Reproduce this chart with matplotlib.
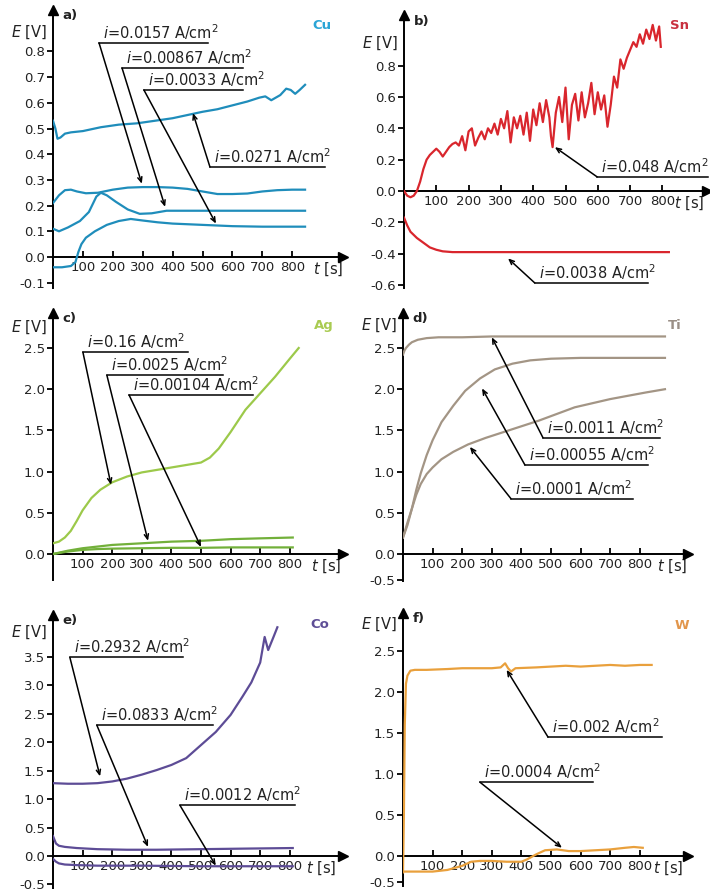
import matplotlib
matplotlib.use("Agg")
import matplotlib.pyplot as plt

plt.rcParams['font.family'] = ['DejaVu Sans']
plt.rcParams['mathtext.fontset'] = 'dejavusans'

# ---------------- data ----------------
x_ticks = [100, 200, 300, 400, 500, 600, 700, 800]
x_tick_labels = ['100', '200', '300', '400', '500', '600', '700', '800']

# a) Cu
cu_t_0271 = [0, 8, 15, 25, 40, 60, 100, 160, 220, 280, 340, 400, 460, 500, 550, 600, 650, 690, 710, 730, 760, 780, 795, 810, 825, 843]
cu_e_0271 = [0.53, 0.50, 0.46, 0.465, 0.48, 0.485, 0.49, 0.505, 0.515, 0.52, 0.53, 0.54, 0.555, 0.565, 0.575, 0.59, 0.605, 0.62, 0.625, 0.61, 0.63, 0.655, 0.65, 0.635, 0.65, 0.67]
cu_t_0157 = [0, 20, 40, 60, 80, 110, 150, 200, 250, 300, 350, 400, 450, 500, 550, 600, 650, 700, 750, 800, 843]
cu_e_0157 = [0.21, 0.24, 0.26, 0.262, 0.255, 0.248, 0.25, 0.262, 0.27, 0.272, 0.272, 0.27, 0.265, 0.255, 0.245, 0.245, 0.247, 0.255, 0.26, 0.262, 0.262]
cu_t_00867 = [0, 20, 50, 90, 120, 145, 160, 180, 210, 250, 290, 330, 380, 450, 550, 650, 750, 843]
cu_e_00867 = [0.11, 0.10, 0.115, 0.14, 0.175, 0.235, 0.25, 0.24, 0.215, 0.185, 0.168, 0.17, 0.18, 0.18, 0.18, 0.18, 0.18, 0.18]
cu_t_0033 = [0, 30, 60, 75, 85, 95, 110, 140, 180, 220, 260, 300, 350, 400, 500, 600, 700, 843]
cu_e_0033 = [-0.04, -0.04, -0.035, -0.02, 0.02, 0.05, 0.075, 0.10, 0.125, 0.14, 0.148, 0.142, 0.135, 0.13, 0.125, 0.12, 0.118, 0.118]
cu_yticks = [-0.1, 0.0, 0.1, 0.2, 0.3, 0.4, 0.5, 0.6, 0.7, 0.8]
cu_ylabels = ['-0.1', '0.0', '0.1', '0.2', '0.3', '0.4', '0.5', '0.6', '0.7', '0.8']

# b) Sn
sn_t_048 = [0, 10, 20, 30, 40, 50, 60, 70, 80, 90,
            100, 110, 120, 130, 140, 150, 160, 170, 180, 190,
            200, 210, 220, 230, 240, 250, 260, 270, 280, 290,
            300, 310, 320, 330, 340, 350, 360, 370, 380, 390,
            400, 410, 420, 430, 440, 450, 455, 460, 470, 480,
            490, 500, 510, 520, 530, 540, 550, 560, 570, 580,
            590, 600, 610, 620, 630, 640, 650, 660, 670, 680,
            690, 700, 710, 720, 730, 740, 750, 760, 770, 780,
            790, 795]
sn_e_048 = [0.00, -0.03, -0.04, -0.03, 0.00, 0.06, 0.14, 0.20, 0.23, 0.25,
            0.27, 0.25, 0.22, 0.25, 0.28, 0.30, 0.31, 0.29, 0.35, 0.26,
            0.38, 0.40, 0.29, 0.34, 0.38, 0.33, 0.40, 0.37, 0.43, 0.36,
            0.46, 0.40, 0.51, 0.31, 0.47, 0.40, 0.48, 0.36, 0.50, 0.32,
            0.52, 0.42, 0.56, 0.44, 0.58, 0.47, 0.35, 0.28, 0.50, 0.60,
            0.44, 0.66, 0.33, 0.55, 0.62, 0.45, 0.63, 0.47, 0.56, 0.69,
            0.49, 0.63, 0.52, 0.61, 0.41, 0.55, 0.73, 0.66, 0.84, 0.78,
            0.85, 0.90, 0.95, 0.92, 1.00, 0.94, 1.03, 0.97, 1.06, 0.96,
            1.05, 0.92]
sn_t_0038 = [0, 10, 20, 40, 60, 80, 100, 120, 150, 200, 300, 400, 500, 600, 700, 800, 820]
sn_e_0038 = [-0.17, -0.22, -0.26, -0.30, -0.33, -0.36, -0.375, -0.385, -0.39, -0.39, -0.39, -0.39, -0.39, -0.39, -0.39, -0.39, -0.39]
sn_yticks = [-0.6, -0.4, -0.2, 0.0, 0.2, 0.4, 0.6, 0.8]
sn_ylabels = ['-0.6', '-0.4', '-0.2', '0.0', '0.2', '0.4', '0.6', '0.8']

# c) Ag
ag_t_016 = [0, 20, 40, 60, 80, 100, 130, 160, 200, 250, 300, 350, 400, 450, 500, 530, 560, 600, 650, 700, 750, 800, 830]
ag_e_016 = [0.13, 0.15, 0.2, 0.28, 0.4, 0.53, 0.68, 0.78, 0.87, 0.94, 0.99, 1.02, 1.05, 1.08, 1.11, 1.17, 1.28, 1.48, 1.75, 1.95, 2.15, 2.37, 2.5]
ag_t_low = [0, 50, 100, 150, 200, 300, 400, 500, 600, 700, 810]
ag_e_00025 = [0.0, 0.04, 0.07, 0.09, 0.11, 0.13, 0.15, 0.16, 0.18, 0.19, 0.2]
ag_e_000104 = [0.0, 0.03, 0.05, 0.06, 0.065, 0.07, 0.075, 0.075, 0.08, 0.08, 0.08]
ag_yticks = [0.0, 0.5, 1.0, 1.5, 2.0, 2.5]
ag_ylabels = ['0.0', '0.5', '1.0', '1.5', '2.0', '2.5']

# d) Ti
ti_t_0011 = [0, 5, 10, 20, 30, 50, 80, 120, 200, 300, 400, 500, 600, 700, 800, 885]
ti_e_0011 = [2.42, 2.47, 2.5, 2.54, 2.57, 2.6, 2.62, 2.63, 2.63, 2.64, 2.64, 2.64, 2.64, 2.64, 2.64, 2.64]
ti_t_000055 = [0, 15, 30, 45, 60, 80, 100, 130, 170, 210, 260, 310, 370, 430, 500, 600, 700, 800, 885]
ti_e_000055 = [0.2, 0.38, 0.55, 0.78, 0.98, 1.2, 1.38, 1.6, 1.8, 1.98, 2.13, 2.24, 2.31, 2.35, 2.37, 2.38, 2.38, 2.38, 2.38]
ti_t_00001 = [0, 15, 30, 45, 60, 80, 100, 130, 170, 220, 280, 340, 400, 460, 520, 580, 640, 700, 760, 820, 885]
ti_e_00001 = [0.2, 0.35, 0.55, 0.72, 0.85, 0.97, 1.05, 1.15, 1.24, 1.33, 1.41, 1.48, 1.55, 1.62, 1.70, 1.78, 1.83, 1.88, 1.92, 1.96, 2.0]
ti_yticks = [0.0, 0.5, 1.0, 1.5, 2.0, 2.5]
ti_ylabels = ['-0.5', '0.0', '0.5', '1.0', '1.5', '2.0', '2.5']   # first label sits at the axis end

# e) Co
co_t_2932 = [0, 50, 100, 150, 200, 250, 300, 350, 400, 450, 500, 550, 600, 640, 670, 700, 715, 727, 745, 758]
co_e_2932 = [1.28, 1.27, 1.27, 1.28, 1.31, 1.36, 1.43, 1.51, 1.60, 1.72, 1.95, 2.18, 2.48, 2.80, 3.05, 3.40, 3.85, 3.62, 3.85, 4.02]
co_t_0833 = [0, 10, 20, 40, 80, 150, 250, 350, 500, 650, 810]
co_e_0833 = [0.35, 0.22, 0.18, 0.16, 0.14, 0.12, 0.11, 0.11, 0.12, 0.13, 0.14]
co_t_0012 = [0, 10, 20, 40, 80, 150, 300, 500, 700, 810]
co_e_0012 = [-0.05, -0.1, -0.13, -0.15, -0.16, -0.17, -0.17, -0.18, -0.18, -0.18]
co_yticks = [-0.5, 0.0, 0.5, 1.0, 1.5, 2.0, 2.5, 3.0, 3.5]
co_ylabels = ['-0.5', '0.0', '0.5', '1.0', '1.5', '2.0', '2.5', '3.0', '3.5']

# f) W
w_t_0002 = [0, 3, 6, 10, 15, 25, 40, 80, 150, 200, 250, 300, 330, 345, 355, 365, 380, 450, 500, 550, 600, 650, 700, 750, 800, 840]
w_e_0002 = [-0.2, 0.5, 1.6, 2.1, 2.2, 2.26, 2.27, 2.27, 2.28, 2.29, 2.29, 2.29, 2.3, 2.35, 2.29, 2.25, 2.29, 2.3, 2.31, 2.32, 2.31, 2.32, 2.33, 2.32, 2.33, 2.33]
w_t_00004 = [0, 50, 100, 150, 200, 230, 260, 300, 350, 400, 420, 450, 480, 520, 560, 600, 650, 700, 750, 780, 810]
w_e_00004 = [-0.19, -0.19, -0.19, -0.17, -0.12, -0.07, -0.06, -0.06, -0.07, -0.07, -0.04, 0.02, 0.07, 0.08, 0.06, 0.06, 0.07, 0.08, 0.1, 0.11, 0.1]
w_yticks = [0.0, 0.5, 1.0, 1.5, 2.0, 2.5]
w_ylabels = ['-0.5', '0.0', '0.5', '1.0', '1.5', '2.0', '2.5']

# colours
C_CU, C_CU_LBL = '#1f8dbb', '#2ba5d6'
C_SN, C_SN_LBL = '#d9262d', '#c8303f'
C_AG, C_AG_DARK, C_AG_LBL = '#9cc94a', '#72b03a', '#a9cb52'
C_TI, C_TI_LBL = '#a39585', '#9a8f86'
C_CO, C_CO_LBL = '#5d4c96', '#5e4e96'
C_W, C_W_LBL = '#e9a03c', '#e2964c'

# ---------------- figure ----------------
W_PX, H_PX = 710, 889
fig = plt.figure(figsize=(W_PX / 100, H_PX / 100), dpi=100)
fig.patch.set_facecolor('white')

TXT = '#222222'


def add_panel(x0, y0, sx, sy, xlim, ylim):
    left = x0 + xlim[0] * sx
    right = x0 + xlim[1] * sx
    top = y0 - ylim[1] * sy
    bottom = y0 - ylim[0] * sy
    ax = fig.add_axes([left / W_PX, 1 - bottom / H_PX, (right - left) / W_PX, (bottom - top) / H_PX])
    ax.set_xlim(xlim)
    ax.set_ylim(ylim)
    ax.patch.set_alpha(0)
    for s in ('top', 'right'):
        ax.spines[s].set_visible(False)
    ax.spines['left'].set_position(('data', 0))
    ax.spines['bottom'].set_position(('data', 0))
    for s in ('left', 'bottom'):
        ax.spines[s].set_linewidth(1.4)
        ax.spines[s].set_zorder(1)
    ax.plot(1, 0, marker='>', ms=7, color='k', transform=ax.get_yaxis_transform(), clip_on=False, zorder=5)
    ax.plot(0, 1, marker='^', ms=7, color='k', transform=ax.get_xaxis_transform(), clip_on=False, zorder=5)
    ax.set_xticks(x_ticks)
    ax.set_xticklabels(x_tick_labels)
    ax.tick_params(axis='x', direction='in', length=4, width=1.3, pad=3, labelsize=9.5, labelcolor=TXT)
    ax.tick_params(axis='y', direction='out', length=4, width=1.3, pad=2, labelsize=9.5, labelcolor=TXT)
    return ax


def decorate(ax, letter, elem, elem_color, elem_xy, ylabel_y, t_x):
    ax.annotate(r'$E$ [V]', xy=(0, ylabel_y), xytext=(-4, 0), textcoords='offset points',
                ha='right', va='center', fontsize=10.5, color=TXT)
    ax.annotate(letter, xy=(0, 1), xycoords=('data', 'axes fraction'), xytext=(7, -4),
                textcoords='offset points', ha='left', va='center', fontsize=9.5,
                fontweight='bold', color=TXT)
    ax.text(elem_xy[0], elem_xy[1], elem, transform=ax.transAxes, ha='left', va='center',
            fontsize=9.5, fontweight='bold', color=elem_color)
    ax.annotate(r'$t$ [s]', xy=(t_x, 0), xytext=(0, -8.5), textcoords='offset points',
                ha='left', va='center', fontsize=10.5, color=TXT)


def callout(ax, text, tx, ty, ux_end, px, py):
    ax.plot([tx, ux_end], [ty, ty], color='k', lw=1.1, clip_on=False, zorder=4)
    ax.annotate('', xy=(px, py), xytext=(tx, ty),
                arrowprops=dict(arrowstyle='->,head_length=0.35,head_width=0.15', lw=1.1,
                                color='k', shrinkA=0, shrinkB=0),
                annotation_clip=False, zorder=4)
    ax.annotate(text, xy=(tx, ty), xytext=(3, 0.8), textcoords='offset points',
                ha='left', va='bottom', fontsize=10.5, color=TXT, annotation_clip=False)


def itext(v):
    return r'$i$=' + v + r' A/cm$^2$'


LW = 1.6

# a) Cu
ax = add_panel(53, 257, 0.299, 257, (0, 970), (-0.12, 0.96))
ax.set_yticks(cu_yticks)
ax.set_yticklabels(cu_ylabels)
for t, e in ((cu_t_0271, cu_e_0271), (cu_t_0157, cu_e_0157), (cu_t_00867, cu_e_00867), (cu_t_0033, cu_e_0033)):
    ax.plot(t, e, color=C_CU, lw=LW, zorder=3)
decorate(ax, 'a)', 'Cu', C_CU_LBL, (0.893, 0.946), 0.875, 868)
callout(ax, itext('0.0157'), 154, 0.833, 518, 297, 0.285)
callout(ax, itext('0.00867'), 231, 0.735, 635, 375, 0.195)
callout(ax, itext('0.0033'), 304, 0.65, 635, 545, 0.13)
callout(ax, itext('0.0271'), 525, 0.35, 910, 468, 0.56)

# b) Sn
ax = add_panel(404, 191, 0.323, 156.7, (0, 938), (-0.62, 1.12))
ax.set_yticks(sn_yticks)
ax.set_yticklabels(sn_ylabels)
ax.plot(sn_t_048, sn_e_048, color=C_SN, lw=LW, zorder=3)
ax.plot(sn_t_0038, sn_e_0038, color=C_SN, lw=LW, zorder=3)
decorate(ax, 'b)', 'Sn', C_SN_LBL, (0.878, 0.963), 0.94, 836)
callout(ax, itext('0.048'), 598, 0.09, 941, 467, 0.28)
callout(ax, itext('0.0038'), 405, -0.587, 755, 322, -0.43)

# c) Ag
ax = add_panel(53, 554, 0.296, 82.4, (0, 981), (-0.32, 2.92))
ax.set_yticks(ag_yticks)
ax.set_yticklabels(ag_ylabels)
ax.plot(ag_t_016, ag_e_016, color=C_AG, lw=LW, zorder=3)
ax.plot(ag_t_low, ag_e_00025, color=C_AG_DARK, lw=LW, zorder=3)
ax.plot(ag_t_low, ag_e_000104, color=C_AG_DARK, lw=LW, zorder=3)
decorate(ax, 'c)', 'Ag', C_AG_LBL, (0.9, 0.955), 2.75, 873)
callout(ax, itext('0.16'), 101, 2.45, 456, 196, 0.84)
callout(ax, itext('0.0025'), 182, 2.17, 574, 321, 0.16)
callout(ax, itext('0.00104'), 257, 1.93, 676, 500, 0.085)

# d) Ti
ax = add_panel(403, 554, 0.296, 82.4, (0, 963), (-0.33, 2.92))
ax.set_yticks([ax.get_ylim()[0] + 0.01] + ti_yticks)
ax.set_yticklabels(ti_ylabels)
ax.plot(ti_t_0011, ti_e_0011, color=C_TI, lw=LW, zorder=3)
ax.plot(ti_t_000055, ti_e_000055, color=C_TI, lw=LW, zorder=3)
ax.plot(ti_t_00001, ti_e_00001, color=C_TI, lw=LW, zorder=3)
decorate(ax, 'd)', 'Ti', C_TI_LBL, (0.93, 0.955), 2.78, 858)
callout(ax, itext('0.0011'), 473, 1.41, 868, 300, 2.63)
callout(ax, itext('0.00055'), 412, 1.08, 828, 267, 2.01)
callout(ax, itext('0.0001'), 365, 0.67, 777, 226, 1.30)

# e) Co
ax = add_panel(53, 856, 0.296, 56.9, (0, 981), (-0.58, 4.24))
ax.set_yticks(co_yticks)
ax.set_yticklabels(co_ylabels)
ax.plot(co_t_2932, co_e_2932, color=C_CO, lw=LW, zorder=3)
ax.plot(co_t_0833, co_e_0833, color=C_CO, lw=LW, zorder=3)
ax.plot(co_t_0012, co_e_0012, color=C_CO, lw=LW, zorder=3)
decorate(ax, 'e)', 'Co', C_CO_LBL, (0.886, 0.964), 3.93, 856)
callout(ax, itext('0.2932'), 57, 3.49, 439, 159, 1.40)
callout(ax, itext('0.0833'), 148, 2.30, 541, 321, 0.16)
callout(ax, itext('0.0012'), 429, 0.89, 818, 550, -0.17)

# f) W
ax = add_panel(403, 856, 0.296, 82, (0, 963), (-0.36, 2.96))
ax.set_yticks([ax.get_ylim()[0] + 0.04] + w_yticks)
ax.set_yticklabels(w_ylabels)
ax.plot(w_t_0002, w_e_0002, color=C_W, lw=LW, zorder=3)
ax.plot(w_t_00004, w_e_00004, color=C_W, lw=LW, zorder=3)
decorate(ax, 'f)', 'W', C_W_LBL, (0.954, 0.956), 2.82, 845)
callout(ax, itext('0.002'), 490, 1.45, 875, 350, 2.27)
callout(ax, itext('0.0004'), 260, 0.90, 642, 537, 0.10)

fig.savefig('out.png', dpi=100, facecolor='white')
